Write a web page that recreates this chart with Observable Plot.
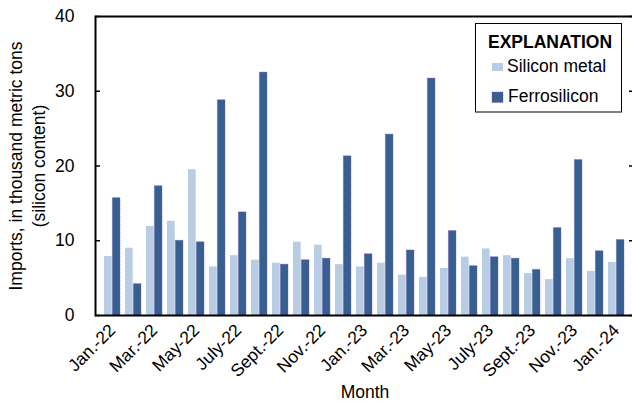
<!DOCTYPE html>
<html><head><meta charset="utf-8">
<script src="https://cdn.jsdelivr.net/npm/d3@7"></script>
<script src="https://cdn.jsdelivr.net/npm/@observablehq/plot@0.6"></script>
<style>
html,body{margin:0;padding:0;background:#fff;overflow:hidden;}
#wrap{position:relative;width:632px;height:402px;}
svg{font-family:"Liberation Sans",Arial,sans-serif;}
</style>
</head><body><div id="wrap"></div>
<script>
const months = ["Jan-22","Feb-22","Mar-22","Apr-22","May-22","Jun-22","Jul-22","Aug-22","Sep-22","Oct-22","Nov-22","Dec-22",
  "Jan-23","Feb-23","Mar-23","Apr-23","May-23","Jun-23","Jul-23","Aug-23","Sep-23","Oct-23","Nov-23","Dec-23","Jan-24"];
const siliconMetal = [7.9, 9.0, 11.9, 12.6, 19.5, 6.5, 8.0, 7.4, 7.0, 9.8, 9.4, 6.8, 6.5, 7.0, 5.4, 5.1, 6.3, 7.8, 8.9, 8.0, 5.6, 4.8, 7.6, 5.9, 7.1];
const ferrosilicon = [15.7, 4.2, 17.3, 10.0, 9.8, 28.8, 13.8, 32.5, 6.8, 7.4, 7.6, 21.3, 8.2, 24.2, 8.7, 31.7, 11.3, 6.6, 7.8, 7.6, 6.1, 11.7, 20.8, 8.6, 10.1];
const tickMonths = ["Jan-22","Mar-22","May-22","Jul-22","Sep-22","Nov-22","Jan-23","Mar-23","May-23","Jul-23","Sep-23","Nov-23","Jan-24"];
const tickLabels = ["Jan.-22","Mar.-22","May-22","July-22","Sept.-22","Nov.-22","Jan.-23","Mar.-23","May-23","July-23","Sept.-23","Nov.-23","Jan.-24"];
const yTicks = [0, 10, 20, 30, 40];
const seriesNames = ["Silicon metal", "Ferrosilicon"];
const seriesColors = ["#b8cce4", "#376092"];

const siData = months.map((m, i) => ({month: m, value: siliconMetal[i]}));
const feData = months.map((m, i) => ({month: m, value: ferrosilicon[i]}));
const labelOf = new Map(tickMonths.map((m, i) => [m, tickLabels[i]]));

const W = 632, H = 402, mL = 95, mR = -2, mT = 16, mB = 87;
const fs = 17.5;
const xOpts = {type: "band", domain: months, paddingInner: 0.23, paddingOuter: 0.05};
const bw = Plot.scale({x: {...xOpts, range: [mL, W - mR]}}).bandwidth;
const half = bw / 2;

const plot = Plot.plot({
  width: W, height: H,
  marginLeft: mL, marginRight: mR, marginTop: mT, marginBottom: mB,
  style: {fontSize: fs + "px", fontFamily: '"Liberation Sans", Arial, sans-serif', color: "#000", background: "#fff"},
  x: xOpts,
  y: {domain: [0, 40]},
  marks: [
    Plot.barY(siData, {x: "month", y: "value", fill: seriesColors[0], insetRight: half}),
    Plot.barY(feData, {x: "month", y: "value", fill: seriesColors[1], insetLeft: half, stroke: "#7a58a8", strokeWidth: 0.7, strokeDasharray: "1,1"}),
    Plot.axisY({ticks: yTicks, tickSize: 0, tickPadding: 21, fontSize: fs, label: null}),
    Plot.axisY({ticks: yTicks, tickSize: 5, dx: 5, tickFormat: () => "", label: null, strokeWidth: 1.5}),
    Plot.axisY({ticks: yTicks, anchor: "right", tickSize: 6, dx: -6, tickFormat: () => "", label: null, strokeWidth: 1.5}),
    Plot.axisX({ticks: tickMonths, tickSize: 0, tickRotate: -45, tickFormat: d => labelOf.get(d), fontSize: fs, label: null}),
    Plot.frame({stroke: "#000", strokeWidth: 2}),
    Plot.text(["Imports, in thousand metric tons"], {frameAnchor: "left", rotate: -90, textAnchor: "middle", lineAnchor: "bottom", dx: -74, fontSize: fs}),
    Plot.text(["(silicon content)"], {frameAnchor: "left", rotate: -90, textAnchor: "middle", lineAnchor: "bottom", dx: -51, fontSize: fs}),
    Plot.text(["Month"], {frameAnchor: "bottom", lineAnchor: "bottom", dy: 82, fontSize: fs})
  ]
});

const svg = d3.select(plot);
const lg = svg.append("g").attr("font-family", '"Liberation Sans", Arial, sans-serif').attr("font-size", fs).attr("text-anchor", "start");
lg.append("rect").attr("x", 475.5).attr("y", 23.5).attr("width", 146).attr("height", 88.5)
  .attr("fill", "#fff").attr("stroke", "#000").attr("stroke-width", 1);
lg.append("text").attr("x", 488).attr("y", 48).attr("text-anchor", "start").attr("font-weight", "bold").text("EXPLANATION");
const items = [
  {name: seriesNames[0], color: seriesColors[0], sy: 63, sh: 8, ty: 71.7, tx: 507},
  {name: seriesNames[1], color: seriesColors[1], sy: 92, sh: 10.5, ty: 101.7, tx: 508}
];
for (const it of items) {
  lg.append("rect").attr("x", 492).attr("y", it.sy).attr("width", 11).attr("height", it.sh).attr("fill", it.color)
    .attr("stroke", it.name === "Ferrosilicon" ? "#7a58a8" : "none").attr("stroke-width", 0.7).attr("stroke-dasharray", "1,1");
  lg.append("text").attr("x", it.tx).attr("y", it.ty).attr("text-anchor", "start").text(it.name);
}
document.getElementById("wrap").appendChild(plot);
</script>
</body></html>
